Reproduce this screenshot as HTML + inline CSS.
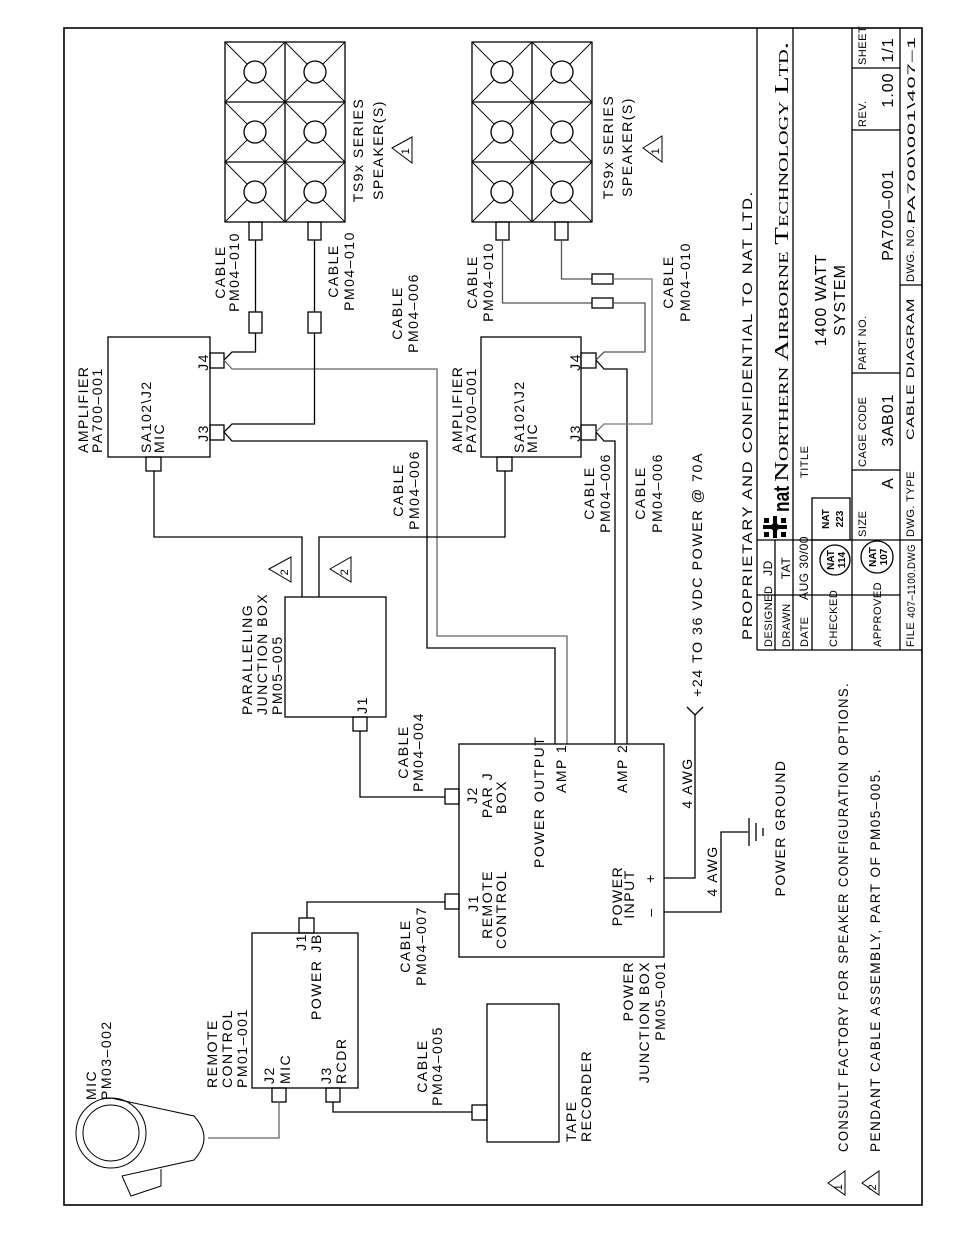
<!DOCTYPE html>
<html><head><meta charset="utf-8"><style>
html,body{margin:0;padding:0;background:#fff;}
svg{display:block;}
.t{font-family:"Liberation Sans",sans-serif;font-size:14px;letter-spacing:1.5px;fill:#000;}
.s{font-family:"Liberation Sans",sans-serif;font-size:11px;letter-spacing:0.5px;fill:#000;}
.n{font-family:"Liberation Sans",sans-serif;font-size:10px;font-weight:bold;fill:#000;}
</style></head><body>
<svg width="954" height="1235" viewBox="0 0 954 1235" xmlns="http://www.w3.org/2000/svg">
<g fill="none" stroke="#000" stroke-width="1.3">
<rect x="64" y="28" width="858" height="1177" stroke-width="1.6"/>
<!-- title block -->
<line x1="757" y1="28" x2="757" y2="650"/>
<line x1="757" y1="650" x2="922" y2="650"/>
<line x1="775" y1="540" x2="775" y2="650"/>
<line x1="793" y1="28" x2="793" y2="650"/>
<line x1="812" y1="540" x2="812" y2="650"/>
<line x1="852" y1="28" x2="852" y2="650"/>
<line x1="900" y1="28" x2="900" y2="650"/>
<line x1="757" y1="540" x2="922" y2="540"/>
<line x1="757" y1="595" x2="900" y2="595"/>
<line x1="852" y1="470" x2="900" y2="470"/>
<line x1="852" y1="373" x2="900" y2="373"/>
<line x1="852" y1="130" x2="900" y2="130"/>
<line x1="852" y1="68" x2="900" y2="68"/>
<line x1="900" y1="285" x2="922" y2="285"/>
<rect x="812" y="498" width="38" height="42"/>
<circle cx="835" cy="560" r="15"/>
<circle cx="877" cy="557" r="16"/>

<!-- speakers -->
<g id="spk">
<rect x="225" y="42" width="120" height="180"/>
<line x1="285" y1="42" x2="285" y2="222"/>
<line x1="225" y1="102" x2="345" y2="102"/><line x1="225" y1="162" x2="345" y2="162"/>
<path d="M225 42L285 102M285 42L225 102M285 42L345 102M345 42L285 102M225 102L285 162M285 102L225 162M285 102L345 162M345 102L285 162M225 162L285 222M285 162L225 222M285 162L345 222M345 162L285 222" stroke-width="0.9"/>
<g fill="#fff"><circle cx="255" cy="72" r="11"/><circle cx="315" cy="72" r="11"/><circle cx="255" cy="132" r="11"/><circle cx="315" cy="132" r="11"/><circle cx="255" cy="192" r="11"/><circle cx="315" cy="192" r="11"/></g>
<rect x="249" y="222" width="13" height="18"/><rect x="308" y="222" width="13" height="18"/>
</g>
<use href="#spk" transform="translate(247,0)"/>

<!-- amplifiers -->
<rect x="108" y="337" width="102" height="120"/>
<rect x="210" y="353" width="14" height="15"/><rect x="210" y="425" width="14" height="15"/>
<rect x="146" y="457" width="15" height="14"/>
<rect x="481" y="337" width="100" height="120"/>
<rect x="581" y="353" width="15" height="15"/><rect x="581" y="425" width="15" height="15"/>
<rect x="497" y="457" width="15" height="14"/>

<!-- speaker1 wires -->
<polyline points="255.5,240 255.5,312"/><rect x="249" y="312" width="13" height="21"/>
<polyline points="255.5,333 255.5,352 232,352 224,360"/>
<polyline points="224,360 232,369 437,369 437,636 567,636 567,744" stroke="#666"/>
<polyline points="314.5,240 314.5,312"/><rect x="308" y="312" width="13" height="21"/>
<polyline points="314.5,333 314.5,424 232,424 224,432 232,441 427,441 427,648 555,648 555,744"/>
<!-- speaker2 wires -->
<polyline points="502.5,240 502.5,303 592,303" stroke="#555"/><rect x="592" y="298" width="21" height="10"/>
<polyline points="613,303 645,303 645,352 604,352 596,360" stroke="#555"/>
<polyline points="596,360 604,369 627,369 627,744"/>
<polyline points="561.5,240 561.5,279 592,279" stroke="#555"/><rect x="592" y="274" width="21" height="10"/>
<polyline points="613,279 652,279 652,424 604,424 596,432" stroke="#777"/>
<polyline points="596,432 604,441 615,441 615,744"/>

<!-- mic inputs to paralleling -->
<polyline points="154,471 154,537 302,537 302,597"/>
<polyline points="319,597 319,537 505,537 505,471"/>
<rect x="285" y="597" width="101" height="120"/>
<rect x="353" y="717" width="14" height="14"/>
<polyline points="360,731 360,797 445,797"/>

<!-- power box -->
<rect x="459" y="744" width="205" height="213"/>
<rect x="445" y="789" width="14" height="15"/><rect x="445" y="894" width="14" height="15"/>
<polyline points="445,902 307,902 307,918"/>
<polyline points="664,878 695,878 695,715"/>
<polyline points="687,707 695,715 703,707"/>
<polyline points="664,912 721,912 721,832 748,832"/>
<line x1="749" y1="818" x2="749" y2="846"/><line x1="756" y1="823" x2="756" y2="841"/><line x1="763" y1="828" x2="763" y2="836"/>

<!-- remote -->
<rect x="252" y="933" width="106" height="155"/>
<rect x="299" y="918" width="15" height="15"/>
<rect x="272" y="1088" width="14" height="14"/><rect x="326" y="1088" width="14" height="14"/>
<polyline points="279,1102 279,1138 208,1138" stroke="#666"/>
<polyline points="333,1102 333,1112 472,1112"/>
<rect x="487" y="1004" width="72" height="138"/>
<rect x="472" y="1105" width="15" height="15"/>

<!-- mic -->
<g stroke-width="1">
<circle cx="111" cy="1133" r="35"/><circle cx="111" cy="1133" r="28"/>
<path d="M111 1098 L194 1116 Q214 1138 194 1160 L122 1176"/>
<polyline points="122,1176 131,1196 161,1186 161,1169"/>
</g>

<!-- triangles -->
<g stroke-width="1">
<polygon points="392,148 412,137 412,163"/>
<polygon points="643,148 662,136 662,162"/>
<polygon points="269,569 291,557 291,582"/>
<polygon points="330,569 351,557 351,582"/>
<polygon points="828,1183 845,1171 845,1195"/>
<polygon points="862,1183 879,1171 879,1195"/>
</g>
</g>

<!-- triangle numbers -->
<g class="s" text-anchor="middle" font-size="11">
<text transform="translate(409,151) rotate(-90)">1</text>
<text transform="translate(659,151) rotate(-90)">1</text>
<text transform="translate(288,572) rotate(-90)">2</text>
<text transform="translate(348,572) rotate(-90)">2</text>
<text transform="translate(842,1187) rotate(-90)">1</text>
<text transform="translate(876,1187) rotate(-90)">2</text>
</g>

<!-- diagram labels -->
<g class="t">
<g text-anchor="middle">
<text transform="translate(225,272) rotate(-90)">CABLE</text>
<text transform="translate(239,272) rotate(-90)">PM04–010</text>
<text transform="translate(338,271) rotate(-90)">CABLE</text>
<text transform="translate(354,271) rotate(-90)">PM04–010</text>
<text transform="translate(402,313) rotate(-90)">CABLE</text>
<text transform="translate(418,313) rotate(-90)">PM04–006</text>
<text transform="translate(363,150) rotate(-90)">TS9x SERIES</text>
<text transform="translate(383,150) rotate(-90)">SPEAKER(S)</text>
<text transform="translate(613,147) rotate(-90)">TS9x SERIES</text>
<text transform="translate(632,147) rotate(-90)">SPEAKER(S)</text>
<text transform="translate(477,282) rotate(-90)">CABLE</text>
<text transform="translate(493,282) rotate(-90)">PM04–010</text>
<text transform="translate(673,282) rotate(-90)">CABLE</text>
<text transform="translate(690,282) rotate(-90)">PM04–010</text>
<text transform="translate(208,362) rotate(-90)">J4</text>
<text transform="translate(208,433) rotate(-90)">J3</text>
<text transform="translate(580,362) rotate(-90)">J4</text>
<text transform="translate(580,433) rotate(-90)">J3</text>
<text transform="translate(403,490) rotate(-90)">CABLE</text>
<text transform="translate(419,490) rotate(-90)">PM04–006</text>
<text transform="translate(594,493) rotate(-90)">CABLE</text>
<text transform="translate(610,493) rotate(-90)">PM04–006</text>
<text transform="translate(645,493) rotate(-90)">CABLE</text>
<text transform="translate(662,493) rotate(-90)">PM04–006</text>
<text transform="translate(367,705) rotate(-90)">J1</text>
<text transform="translate(408,752) rotate(-90)">CABLE</text>
<text transform="translate(423,752) rotate(-90)">PM04–004</text>
<text transform="translate(477,795) rotate(-90)">J2</text>
<text transform="translate(492,795) rotate(-90)">PAR J</text>
<text transform="translate(506,797) rotate(-90)">BOX</text>
<text transform="translate(478,903) rotate(-90)">J1</text>
<text transform="translate(622,896) rotate(-90)">POWER</text>
<text transform="translate(634,894) rotate(-90)">INPUT</text>
<text transform="translate(655,878) rotate(-90)">+</text>
<text transform="translate(655,912) rotate(-90)">–</text>
<text transform="translate(692,783) rotate(-90)">4 AWG</text>
<text transform="translate(717,871) rotate(-90)">4 AWG</text>
<text transform="translate(785,828) rotate(-90)">POWER GROUND</text>
<text transform="translate(306,942) rotate(-90)">J1</text>
<text transform="translate(321,943) rotate(-90)">JB</text>
<text transform="translate(410,946) rotate(-90)">CABLE</text>
<text transform="translate(426,946) rotate(-90)">PM04–007</text>
<text transform="translate(427,1066) rotate(-90)">CABLE</text>
<text transform="translate(442,1066) rotate(-90)">PM04–005</text>
</g>
<g text-anchor="start">
<text transform="translate(88,453) rotate(-90)">AMPLIFIER</text>
<text transform="translate(102,453) rotate(-90)">PA700–001</text>
<text transform="translate(462,453) rotate(-90)">AMPLIFIER</text>
<text transform="translate(476,453) rotate(-90)">PA700–001</text>
<text transform="translate(151,453) rotate(-90)">SA102\J2</text>
<text transform="translate(164,453) rotate(-90)">MIC</text>
<text transform="translate(524,453) rotate(-90)">SA102\J2</text>
<text transform="translate(537,453) rotate(-90)">MIC</text>
<text transform="translate(702,697) rotate(-90)" textLength="245" lengthAdjust="spacingAndGlyphs">+24 TO 36 VDC POWER @ 70A</text>
<text transform="translate(252,715) rotate(-90)">PARALLELING</text>
<text transform="translate(267,715) rotate(-90)">JUNCTION BOX</text>
<text transform="translate(282,715) rotate(-90)">PM05–005</text>
<text transform="translate(544,868) rotate(-90)">POWER OUTPUT</text>
<text transform="translate(566,793) rotate(-90)">AMP 1</text>
<text transform="translate(627,793) rotate(-90)">AMP 2</text>
<text transform="translate(96,1100) rotate(-90)">MIC</text>
<text transform="translate(111,1100) rotate(-90)">PM03–002</text>
<text transform="translate(217,1088) rotate(-90)">REMOTE</text>
<text transform="translate(232,1088) rotate(-90)">CONTROL</text>
<text transform="translate(247,1088) rotate(-90)">PM01–001</text>
<text transform="translate(274,1084) rotate(-90)">J2</text>
<text transform="translate(290,1084) rotate(-90)">MIC</text>
<text transform="translate(331,1084) rotate(-90)">J3</text>
<text transform="translate(346,1084) rotate(-90)">RCDR</text>
<text transform="translate(321,1020) rotate(-90)">POWER</text>
<text transform="translate(576,1142) rotate(-90)">TAPE</text>
<text transform="translate(591,1142) rotate(-90)">RECORDER</text>
<text transform="translate(848,1152) rotate(-90)" textLength="470" lengthAdjust="spacingAndGlyphs">CONSULT FACTORY FOR SPEAKER CONFIGURATION OPTIONS.</text>
<text transform="translate(880,1152) rotate(-90)" textLength="384" lengthAdjust="spacingAndGlyphs">PENDANT CABLE ASSEMBLY, PART OF PM05–005.</text>
<text transform="translate(752,640) rotate(-90)" textLength="450" lengthAdjust="spacingAndGlyphs">PROPRIETARY AND CONFIDENTIAL TO NAT LTD.</text>
</g>
<g text-anchor="end">
<text transform="translate(492,870) rotate(-90)">REMOTE</text>
<text transform="translate(506,870) rotate(-90)">CONTROL</text>
<text transform="translate(633,961) rotate(-90)">POWER</text>
<text transform="translate(649,961) rotate(-90)">JUNCTION BOX</text>
<text transform="translate(665,961) rotate(-90)">PM05–001</text>
</g>
</g>

<!-- title block text -->
<g class="s">
<text transform="translate(772,647) rotate(-90)">DESIGNED</text>
<text transform="translate(790,647) rotate(-90)">DRAWN</text>
<text transform="translate(808,647) rotate(-90)">DATE</text>
<text transform="translate(837,647) rotate(-90)">CHECKED</text>
<text transform="translate(881,647) rotate(-90)">APPROVED</text>
<text transform="translate(914,647) rotate(-90)">FILE</text>
<text transform="translate(915,618) rotate(-90)" textLength="74" lengthAdjust="spacingAndGlyphs">407–1100.DWG</text>
<text transform="translate(808,478) rotate(-90)">TITLE</text>
<text transform="translate(866,537) rotate(-90)">SIZE</text>
<text transform="translate(866,467) rotate(-90)">CAGE CODE</text>
<text transform="translate(866,370) rotate(-90)">PART NO.</text>
<text transform="translate(866,127) rotate(-90)">REV.</text>
<text transform="translate(866,65) rotate(-90)">SHEET</text>
<text transform="translate(914,537) rotate(-90)">DWG. TYPE</text>
<text transform="translate(914,440) rotate(-90)" textLength="142" lengthAdjust="spacingAndGlyphs">CABLE DIAGRAM</text>
<text transform="translate(914,282) rotate(-90)">DWG. NO.</text>
<text transform="translate(915,224) rotate(-90)" textLength="188" lengthAdjust="spacingAndGlyphs">PA700\001\407–1</text>
<g text-anchor="middle" font-size="12">
<text transform="translate(772,568) rotate(-90)">JD</text>
<text transform="translate(790,568) rotate(-90)">TAT</text>
<text transform="translate(808,568) rotate(-90)">AUG 30/00</text>
</g>
<g text-anchor="middle" font-size="16" letter-spacing="1">
<text transform="translate(826,300) rotate(-90)">1400 WATT</text>
<text transform="translate(845,300) rotate(-90)">SYSTEM</text>
<text transform="translate(893,483) rotate(-90)">A</text>
<text transform="translate(893,420) rotate(-90)">3AB01</text>
<text transform="translate(893,215) rotate(-90)">PA700–001</text>
<text transform="translate(893,90) rotate(-90)">1.00</text>
<text transform="translate(893,50) rotate(-90)">1/1</text>
</g>
</g>
<g class="n" text-anchor="middle">
<text transform="translate(834,560) rotate(-90)">NAT</text>
<text transform="translate(845,560) rotate(-90)">114</text>
<text transform="translate(829,519) rotate(-90)">NAT</text>
<text transform="translate(843,519) rotate(-90)">223</text>
<text transform="translate(876,557) rotate(-90)">NAT</text>
<text transform="translate(887,557) rotate(-90)">107</text>
</g>
<!-- logo -->
<g fill="#000">
<circle cx="775" cy="527" r="4"/>
<rect x="763" y="525" width="24" height="4"/>
<rect x="773" y="516" width="4" height="22"/>
<rect x="764" y="518" width="5" height="5"/><rect x="781" y="518" width="5" height="5"/>
<rect x="764" y="532" width="5" height="5"/><rect x="781" y="532" width="5" height="5"/>
</g>
<text transform="translate(789,512) rotate(-90)" style="font-family:'Liberation Sans',sans-serif;font-weight:bold;font-size:22px;" textLength="26" lengthAdjust="spacingAndGlyphs">nat</text>
<text transform="translate(788,482) rotate(-90)" style="font-family:'Liberation Serif',serif;font-size:20px;font-variant:small-caps;" textLength="440" lengthAdjust="spacingAndGlyphs">Northern Airborne Technology Ltd.</text>
</svg>
</body></html>
